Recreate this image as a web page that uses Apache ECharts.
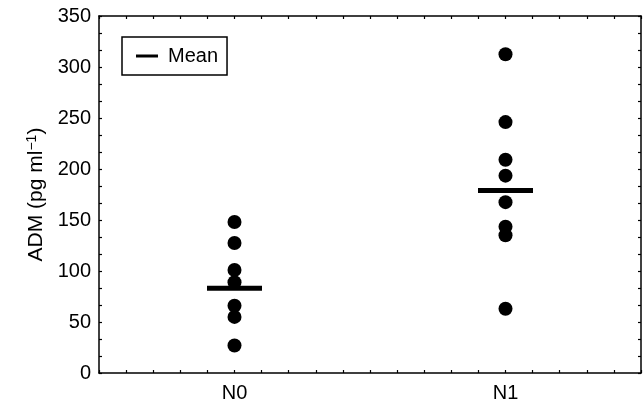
<!DOCTYPE html>
<html>
<head>
<meta charset="utf-8">
<script src="https://cdn.jsdelivr.net/npm/echarts@6/dist/echarts.min.js"></script>
<style>html,body{margin:0;padding:0;background:#fff}#c{width:644px;height:405px}</style>
</head>
<body>
<div id="c"></div>
<script>
const categories = ['N0', 'N1'];
const n0Values = [148, 127.5, 101, 89, 66, 55, 27];
const n1Values = [312.5, 246, 209, 193.5, 167.5, 143.5, 135, 63];
const meanValues = [83, 179];
const yTicks = [0, 50, 100, 150, 200, 250, 300, 350];

const groups = [n0Values, n1Values];
const pointData = [];
groups.forEach((vals, i) => vals.forEach(v => pointData.push([i, v])));
const meanData = meanValues.map((v, i) => [i, v]);

const font = 'Liberation Sans, Arial, Helvetica, sans-serif';
const axisLine = { show: true, onZero: false, lineStyle: { color: '#000', width: 1.5 } };
const tick = { show: true, inside: true, length: 3, lineStyle: { color: '#000', width: 1.2 } };

const chart = echarts.init(document.getElementById('c'), null, { renderer: 'canvas' });
chart.setOption({
  animation: false,
  backgroundColor: '#fff',
  grid: { left: 99, right: 3, top: 16, bottom: 32, containLabel: false },
  legend: {
    data: [{ name: 'Mean', icon: 'rect' }],
    left: 122, top: 37,
    orient: 'vertical',
    itemWidth: 22, itemHeight: 3,
    padding: [9, 9, 9, 14],
    borderColor: '#000', borderWidth: 1.5, borderRadius: 0,
    selectedMode: false,
    textStyle: { fontFamily: font, fontSize: 20, color: '#000', padding: [0, 0, 0, 5] },
    itemStyle: { color: '#000' }
  },
  xAxis: [{
    type: 'value', min: -0.5, max: 1.5, interval: 0.5,
    axisLine: axisLine, axisTick: tick,
    minorTick: { show: true, splitNumber: 5, length: 3, lineStyle: { color: '#000', width: 1.2 } },
    splitLine: { show: false },
    axisLabel: {
      fontFamily: font, fontSize: 20, color: '#000', margin: 10,
      formatter: v => { const i = Math.round(v); return Math.abs(v - i) < 1e-6 && categories[i] ? categories[i] : ''; }
    }
  }, {
    type: 'value', min: -0.5, max: 1.5, interval: 0.5, position: 'top',
    axisLine: axisLine, axisTick: tick,
    minorTick: { show: true, splitNumber: 5, length: 3, lineStyle: { color: '#000', width: 1.2 } },
    splitLine: { show: false }, axisLabel: { show: false }
  }],
  yAxis: [{
    type: 'value', min: yTicks[0], max: yTicks[yTicks.length - 1], interval: 50,
    axisLine: axisLine, axisTick: tick,
    minorTick: { show: true, splitNumber: 3, length: 3, lineStyle: { color: '#000', width: 1.2 } },
    splitLine: { show: false },
    axisLabel: { fontFamily: font, fontSize: 20, color: '#000', margin: 8 },
    name: 'ADM (pg ml{sup|−1})',
    nameLocation: 'middle', nameGap: 51, nameRotate: 90,
    nameTextStyle: {
      fontFamily: font, fontSize: 21, color: '#000',
      rich: { sup: { fontFamily: font, fontSize: 14, color: '#000', verticalAlign: 'top', padding: [0, 0, 8, 0] } }
    }
  }, {
    type: 'value', min: yTicks[0], max: yTicks[yTicks.length - 1], interval: 50, position: 'right',
    axisLine: axisLine, axisTick: tick,
    minorTick: { show: true, splitNumber: 3, length: 3, lineStyle: { color: '#000', width: 1.2 } },
    splitLine: { show: false }, axisLabel: { show: false }
  }],
  series: [{
    name: 'Values', type: 'scatter', xAxisIndex: 0, yAxisIndex: 0,
    symbol: 'circle', symbolSize: 14,
    itemStyle: { color: '#000', opacity: 1 },
    data: pointData, z: 2
  }, {
    name: 'Mean', type: 'scatter', xAxisIndex: 0, yAxisIndex: 0,
    symbol: 'rect', symbolSize: [55, 5],
    itemStyle: { color: '#000', opacity: 1 },
    data: meanData, z: 3
  }]
});
</script>
</body>
</html>
